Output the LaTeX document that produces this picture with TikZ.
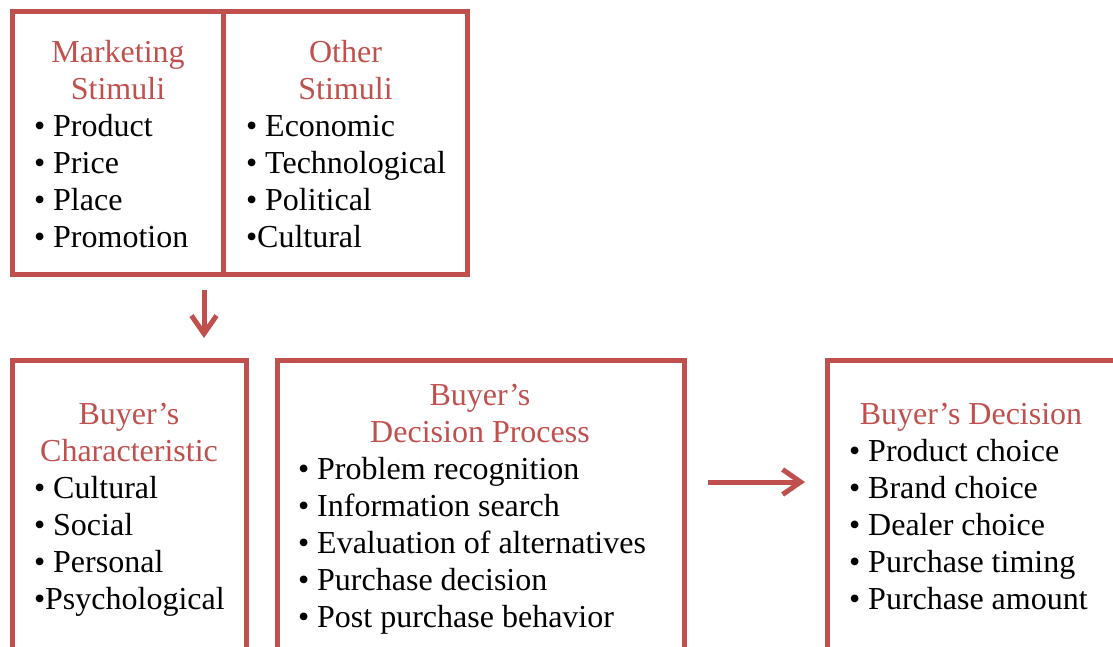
\documentclass[tikz,border=0pt]{standalone}
\usepackage{fontspec}
\setmainfont{Liberation Serif}
\usetikzlibrary{arrows.meta}
\definecolor{boxred}{RGB}{192,80,77}

\begin{document}
\begin{tikzpicture}[
    x=1pt, y=-1pt,
    every node/.style={inner sep=0pt, outer sep=0pt, font=\fontsize{32}{37}\selectfont},
    box/.style={draw=boxred, line width=5pt, anchor=north west},
    head/.style={text=boxred, align=center, anchor=north},
    items/.style={align=left, anchor=north west},
    arr/.style={draw=boxred, line width=5pt, -{Straight Barb[length=18pt,width=25pt]}}
]
\useasboundingbox (0,0) rectangle (1113,646);
\clip (0,0) rectangle (1113,646);

\node[box, minimum width=211, minimum height=263.5] (mktbox) at (12.5,11) {};
\node[box, minimum width=244, minimum height=263.5] (othbox) at (223.5,11) {};
\node[box, minimum width=233.5, minimum height=310] (chrbox) at (12.5,360.5) {};
\node[box, minimum width=407, minimum height=310] (prcbox) at (277,360.5) {};
\node[box, minimum width=320, minimum height=310] (decbox) at (827.5,360.5) {};

\node[head] (mkthead) at (118,36.6) {\strut Marketing\\Stimuli};
\node[items] (mktlist) at (34,110.1) {\strut• Product\\• Price\\• Place\\• Promotion};
\node[head] (othhead) at (345.5,36.6) {\strut Other\\Stimuli};
\node[items] (othlist) at (246,110.1) {\strut• Economic\\• Technological\\• Political\\•Cultural};

\node[head] (chrhead) at (129,398.1) {\strut Buyer’s\\Characteristic};
\node[items] (chrlist) at (34,472.1) {\strut• Cultural\\• Social\\• Personal\\•Psychological};
\node[head] (prchead) at (480,379.6) {\strut Buyer’s\\Decision Process};
\node[items] (prclist) at (298,453.6) {\strut• Problem recognition\\• Information search\\• Evaluation of alternatives\\• Purchase decision\\• Post purchase behavior};
\node[head] (dechead) at (971,398.1) {\strut Buyer’s Decision};
\node[items] (declist) at (849,435.1) {\strut• Product choice\\• Brand choice\\• Dealer choice\\• Purchase timing\\• Purchase amount};

\draw[arr] ([xshift=-19.5pt,yshift=-15.5pt]mktbox.south east) -- ++(0,48);
\draw[arr] ([xshift=24pt,yshift=-121.5pt]prcbox.north east) -- ++(97,0);
\end{tikzpicture}
\end{document}
